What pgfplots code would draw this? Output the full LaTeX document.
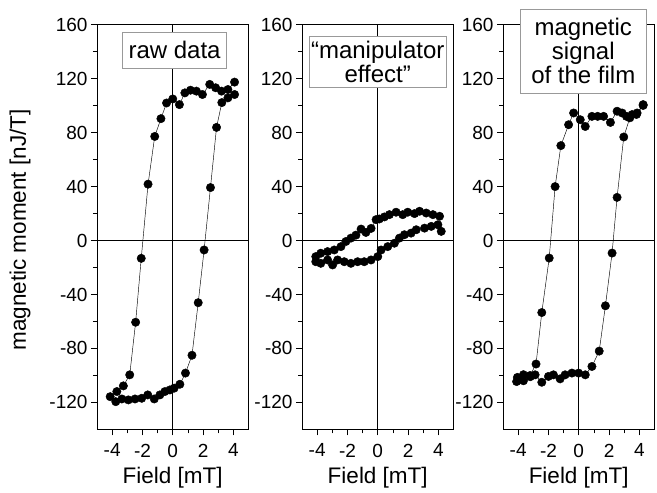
\documentclass[border=0pt]{standalone}
\usepackage{pgfplots}
\pgfplotsset{compat=1.18}
\usepackage{fontspec}
\setmainfont{Liberation Sans}

\tikzset{
  box/.style={draw=gray!80, fill=white, line width=0.8pt, align=center, inner sep=0pt,
    font=\fontsize{24}{24}\selectfont},
}
\pgfplotsset{
  panel/.style={
    scale only axis, width=151.5pt, height=404.5pt,
    anchor=south west, clip=false,
    xmin=-5, xmax=5, ymin=-140, ymax=160,
    xtick={-4,-2,0,2,4}, ytick={-120,-80,-40,0,40,80,120,160},
    minor x tick num=1, minor y tick num=1,
    tick align=outside, xtick pos=left, ytick pos=left,
    major tick length=6pt, minor tick length=4pt,
    every tick/.style={black, line width=0.6pt},
    axis line style={black, line width=0.7pt},
    /pgf/number format/assume math mode=true,
    tick label style={font=\fontsize{19}{21}\selectfont},
    xticklabel style={yshift=-5pt},
    label style={font=\fontsize{22.5}{26}\selectfont},
    xlabel={Field [mT]},
    xlabel style={at={(axis description cs:0.5,0)}, anchor=base, yshift=-54pt},
  },
  loop/.style={black, line width=0.45pt, mark=*, mark size=4.2pt, mark options={solid, fill=black, draw=black}},
}

\begin{document}
\begin{tikzpicture}
\useasboundingbox (0,0) rectangle (657pt,493pt);

% Panel 1: raw data
\begin{axis}[panel, at={(97pt,63.7pt)},
  ylabel={magnetic moment [nJ/T]},
  ylabel style={at={(axis description cs:0,0.5)}, anchor=center, yshift=77pt, xshift=-3pt}]
\draw[black, line width=0.6pt] (axis cs:0,-140) -- (axis cs:0,160);
\draw[black, line width=0.6pt] (axis cs:-5,0) -- (axis cs:5,0);
\addplot[loop] coordinates {
(4.08,117.5) (3.64,112) (3.22,110.8) (2.83,113.3) (2.44,115.8) (1.96,108.3)
(1.56,110.8) (1.17,111.5) (0.80,109.5) (0.44,100.8) (0.00,105) (-0.41,102)
(-0.78,90.4) (-1.19,77.2) (-1.63,41.8) (-2.08,-13.2) (-2.45,-60.6) (-2.84,-99.6)
(-3.26,-107.8) (-3.69,-112) (-4.13,-115.8)
(-3.76,-119.5) (-3.36,-117.5) (-2.93,-118.2) (-2.49,-117.5) (-2.05,-117)
(-1.65,-114.5) (-1.22,-117.5) (-0.85,-114.5) (-0.52,-112) (-0.19,-110.8)
(0.09,-109.5) (0.47,-106.6) (0.84,-98.3) (1.27,-85.1) (1.68,-46.1) (2.07,-7)
(2.49,39.3) (2.89,83.9) (3.24,102.3) (3.64,105.8) (4.08,108.3)
};
\node[box, minimum width=104pt, minimum height=36pt] at (axis cs:0.12,141.2) {raw data};
\end{axis}

% Panel 2: manipulator effect
\begin{axis}[panel, at={(302pt,63.7pt)}]
\draw[black, line width=0.6pt] (axis cs:0,-140) -- (axis cs:0,160);
\draw[black, line width=0.6pt] (axis cs:-5,0) -- (axis cs:5,0);
\addplot[loop] coordinates {
(4.08,18) (3.64,19.2) (3.20,20.4) (2.76,21.7) (2.43,20) (1.98,21) (1.65,19.2)
(1.21,21) (0.77,19.2) (0.44,17.5) (0.11,16) (-0.11,15.5) (-0.44,9) (-0.78,6)
(-1.10,8.5) (-1.44,4) (-1.77,1.8) (-2.10,-0.7) (-2.43,-4.5) (-2.87,-7)
(-3.31,-8.2) (-3.76,-9.4) (-4.09,-11.9)
(-4.09,-15.7) (-3.76,-16.9) (-3.31,-14.4) (-2.98,-18.1) (-2.65,-14.4)
(-2.21,-15.7) (-1.77,-16.9) (-1.33,-15.7) (-0.89,-15.7) (-0.44,-14.4)
(0.00,-11.9) (0.22,-7) (0.66,-4.5) (1.10,-2) (1.43,1.8) (1.76,4.3) (2.20,5.5)
(2.54,8) (3.09,9.2) (3.53,10.5) (3.97,11.7) (4.19,6.8)
};
\node[box, minimum width=136.7pt, minimum height=51pt] at (axis cs:0,132.3)
  {\fontsize{24}{22.5}\selectfont “manipulator\\effect”};
\end{axis}

% Panel 3: magnetic signal of the film
\begin{axis}[panel, at={(503pt,63.7pt)}]
\draw[black, line width=0.6pt] (axis cs:0,-140) -- (axis cs:0,160);
\draw[black, line width=0.6pt] (axis cs:-5,0) -- (axis cs:5,0);
\addplot[loop] coordinates {
(4.25,100.8) (3.85,94.6) (3.52,93.4) (3.15,92.1) (2.86,94.6) (2.53,95.9)
(2.09,87.6) (1.64,92.1) (1.25,92.1) (0.87,92.1) (0.43,84.6) (0.10,89.6)
(-0.34,94.6) (-0.67,85.9) (-1.18,70.4) (-1.56,40) (-1.95,-13) (-2.44,-53.4)
(-2.82,-91.6) (-3.21,-100.1) (-3.65,-99.5) (-4.05,-101.5)
(-4.10,-104.6) (-3.65,-104) (-3.20,-101) (-2.88,-99.6) (-2.44,-105.1)
(-2.00,-100.8) (-1.67,-99.6) (-1.23,-102.6) (-0.90,-99.6) (-0.45,-98.3)
(-0.01,-98.3) (0.43,-99.6) (0.87,-93.4) (1.35,-82) (1.76,-48.4) (2.20,-9.3)
(2.53,32) (2.97,76.8) (3.37,91) (3.81,93.5) (4.25,100.2)
};
\node[box, minimum width=126pt, minimum height=84pt] at (axis cs:0.3,140.4)
  {\fontsize{24}{27}\selectfont magnetic\\signal\\of the film};
\end{axis}
\end{tikzpicture}
\end{document}
